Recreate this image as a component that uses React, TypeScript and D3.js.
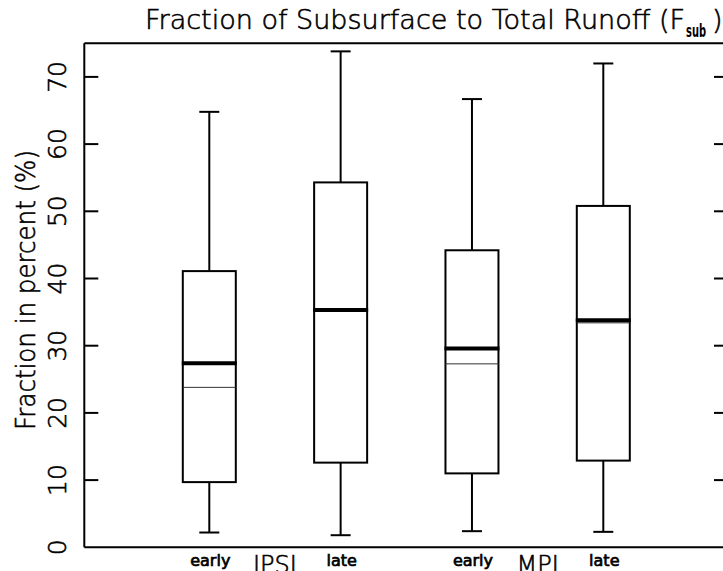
import React from "react";
import * as d3 from "d3";

const categories = ["early", "late", "early", "late"];
const groups = ["IPSI", "MPI"];
const whiskerLow = [2.2, 1.8, 2.4, 2.3];
const q1 = [9.7, 12.6, 11.0, 12.9];
const median = [27.4, 35.3, 29.6, 33.8];
const mean = [23.8, 35.4, 27.3, 33.4];
const q3 = [41.1, 54.3, 44.2, 50.8];
const whiskerHigh = [64.8, 73.8, 66.7, 72.0];
const yTicks = [0, 10, 20, 30, 40, 50, 60, 70];

const W = 723;
const H = 571;
const left = 84.3;
const right = 729;
const top = 43.3;
const bottom = 547.3;

export default function App() {
  const y = d3.scaleLinear().domain([0, 75]).range([bottom, top]);
  const x = d3.scaleLinear().domain([0, 3]).range([209.3, 603.3]);
  const boxW = 53;
  const capW = 20;
  const font = "'DejaVu Sans', sans-serif";
  const light = 200;
  const thick = { stroke: "#000", strokeWidth: 0.6 };

  return (
    <svg
      width={W}
      height={H}
      style={{ position: "absolute", left: 0, top: 0, background: "#fff" }}
      fontFamily={font}
    >
      <rect x={0} y={0} width={W} height={H} fill="#fff" />
      {/* frame */}
      <line x1={left} x2={right} y1={top} y2={top} stroke="#000" strokeWidth={2} />
      <line x1={left} x2={right} y1={bottom} y2={bottom} stroke="#000" strokeWidth={2} />
      <line x1={left} x2={left} y1={top} y2={bottom} stroke="#000" strokeWidth={2} />
      <line x1={right} x2={right} y1={top} y2={bottom} stroke="#000" strokeWidth={2} />
      {/* y ticks */}
      {yTicks.map((t) => (
        <g key={t}>
          {t > 0 && (
            <>
              <line x1={left} x2={left + 14} y1={y(t)} y2={y(t)} stroke="#000" strokeWidth={2} />
              <line x1={right - 15} x2={right} y1={y(t)} y2={y(t)} stroke="#000" strokeWidth={2} />
            </>
          )}
          <text
            transform={`translate(66,${y(t)}) rotate(-90)`}
            textAnchor="middle"
            fontSize={25}
            fontWeight={light}
            fill="#000"
            {...thick}
          >
            {t}
          </text>
        </g>
      ))}
      {/* y label */}
      <text
        transform={`translate(35,${290}) rotate(-90)`}
        textAnchor="middle"
        fontSize={27}
        fontWeight={light}
        fill="#000"
        textLength={280}
        lengthAdjust="spacingAndGlyphs"
        {...thick}
      >
        Fraction in percent (%)
      </text>
      {/* title */}
      <text x={145} y={29} fontSize={27} fontWeight={light} fill="#000" textLength={540} lengthAdjust="spacingAndGlyphs" {...thick}>
        Fraction of Subsurface to Total Runoff (F
      </text>
      <text x={686} y={37} fontSize={17} fontWeight="bold" fill="#000" textLength={20} lengthAdjust="spacingAndGlyphs">
        sub
      </text>
      <text x={712} y={29} fontSize={27} fontWeight={light} fill="#000" {...thick}>
        )
      </text>
      {/* boxes */}
      {categories.map((c, i) => {
        const cx = x(i);
        return (
          <g key={i} stroke="#000" fill="none">
            <line x1={cx} x2={cx} y1={y(whiskerHigh[i])} y2={y(q3[i])} strokeWidth={2} />
            <line x1={cx} x2={cx} y1={y(q1[i])} y2={y(whiskerLow[i])} strokeWidth={2} />
            <line x1={cx - capW / 2} x2={cx + capW / 2} y1={y(whiskerHigh[i])} y2={y(whiskerHigh[i])} strokeWidth={2} />
            <line x1={cx - capW / 2} x2={cx + capW / 2} y1={y(whiskerLow[i])} y2={y(whiskerLow[i])} strokeWidth={2} />
            <rect x={cx - boxW / 2} y={y(q3[i])} width={boxW} height={y(q1[i]) - y(q3[i])} strokeWidth={2} />
            <line x1={cx - boxW / 2} x2={cx + boxW / 2} y1={y(mean[i])} y2={y(mean[i])} strokeWidth={1} stroke="#333" />
            <line x1={cx - boxW / 2 - 1} x2={cx + boxW / 2 + 1} y1={y(median[i])} y2={y(median[i])} strokeWidth={4} />
            <text x={cx + 1} y={566} textAnchor="middle" fontSize={16} fontWeight="normal" fill="#000" stroke="#000" strokeWidth={0.7}>
              {c}
            </text>
          </g>
        );
      })}
      {groups.map((g, j) => (
        <text key={g} x={(x(j * 2) + x(j * 2 + 1)) / 2} y={573} textAnchor="middle" fontSize={24} fontWeight={light} fill="#000" {...thick}>
          {g}
        </text>
      ))}
    </svg>
  );
}
